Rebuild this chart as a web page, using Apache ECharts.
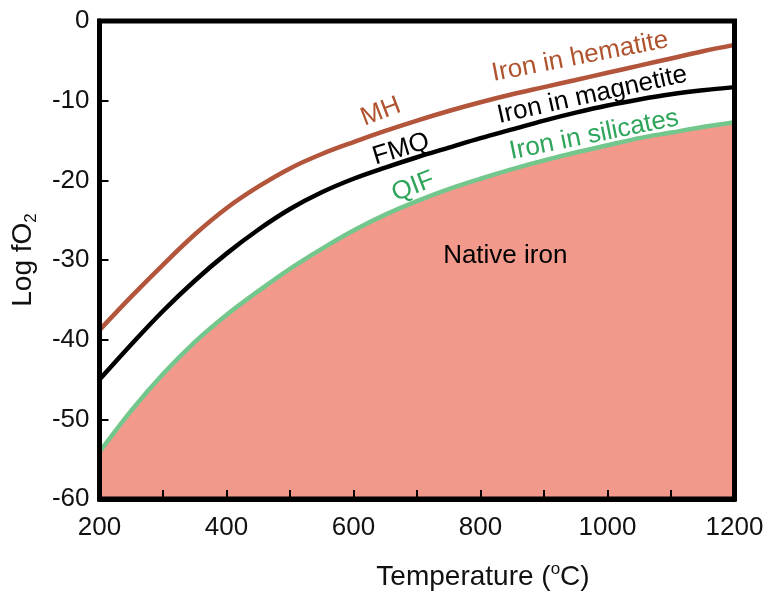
<!DOCTYPE html>
<html><head><meta charset="utf-8">
<script src="https://cdn.jsdelivr.net/npm/echarts@6/dist/echarts.min.js"></script>
<style>html,body{margin:0;padding:0;background:#fff}#c{width:770px;height:596px}</style>
</head><body><div id="c"></div>
<script>
// ---- data ----
const temps = [200,250,300,350,400,450,500,550,600,650,700,750,800,850,900,950,1000,1050,1100,1150,1200];
const mhValues  = [-38.8,-34.6,-30.6,-26.8,-23.5,-20.8,-18.5,-16.7,-15.2,-13.8,-12.5,-11.3,-10.2,-9.2,-8.3,-7.4,-6.5,-5.6,-4.7,-3.8,-3.0];
const fmqValues = [-45.0,-40.6,-36.4,-32.6,-29.2,-26.2,-23.6,-21.5,-19.8,-18.4,-17.1,-15.9,-14.7,-13.6,-12.5,-11.5,-10.6,-9.85,-9.2,-8.7,-8.3];
const qifValues = [-54.1,-48.9,-44.3,-40.3,-36.9,-33.9,-31.1,-28.6,-26.3,-24.3,-22.6,-21.1,-19.8,-18.6,-17.5,-16.5,-15.6,-14.7,-14.0,-13.3,-12.7];
const xTickLabels = [200,400,600,800,1000,1200];
const yTickLabels = [0,-10,-20,-30,-40,-50,-60];
const annotationTexts = ['MH','Iron in hematite','FMQ','Iron in magnetite','QIF','Iron in silicates','Native iron'];
const annotationX = [643, 957, 675, 976, 694, 979, 839];
const annotationY = [-11.4, -4.5, -16.1, -9.3, -20.8, -14.3, -29.5];

// ---- styles ----
const FONT = 'Liberation Sans, Arial, Helvetica, sans-serif';
const BROWN = '#b3553a', BLACK = '#000000', GREEN = '#74c78c', GREEN_TXT = '#2ea55a', FILL = '#f3998c';
const annStyle = [
  {color: '#b0532f', rotate: 21}, {color: '#b0532f', rotate: 11},
  {color: '#000', rotate: 17}, {color: '#000', rotate: 12.5},
  {color: GREEN_TXT, rotate: 21}, {color: GREEN_TXT, rotate: 11.5},
  {color: '#000', rotate: 0}
];

const pairs = vals => temps.map((t, i) => [t, vals[i]]);

const chart = echarts.init(document.getElementById('c'), null, {renderer: 'canvas'});
chart.setOption({
  backgroundColor: '#fff',
  animation: false,
  textStyle: {fontFamily: FONT},
  grid: {left: 99.5, right: 35.5, top: 21, bottom: 97, show: true, z: 10, borderColor: '#000', borderWidth: 5, backgroundColor: 'transparent', containLabel: false},
  xAxis: {
    type: 'value', min: 200, max: 1200, interval: 100, z: 10,
    axisLine: {show: true, onZero: false, lineStyle: {color: '#000', width: 5}},
    axisTick: {show: true, inside: true, length: 9, lineStyle: {color: '#000', width: 2}},
    axisLabel: {fontSize: 26, color: '#111', margin: 16, fontFamily: FONT,
      formatter: v => xTickLabels.includes(v) ? String(v) : ''},
    splitLine: {show: false},
    name: '{t|Temperature (}{s|o}{t|C)}',
    nameLocation: 'middle', nameGap: 62,
    nameTextStyle: {padding: [0, 0, 0, 132], rich: {
      t: {fontSize: 28, color: '#111', fontFamily: FONT, lineHeight: 32},
      s: {fontSize: 17, color: '#111', fontFamily: FONT, verticalAlign: 'top', lineHeight: 16}
    }}
  },
  yAxis: {
    type: 'value', min: -60, max: 0, interval: 10, z: 10,
    axisLine: {show: true, onZero: false, lineStyle: {color: '#000', width: 5}},
    axisTick: {show: true, inside: true, length: 9, lineStyle: {color: '#000', width: 2}},
    axisLabel: {fontSize: 26, color: '#111', margin: 10, fontFamily: FONT,
      formatter: v => yTickLabels.includes(v) ? String(v) : ''},
    splitLine: {show: false},
    name: '{n|Log fO}{s|2}',
    nameLocation: 'middle', nameGap: 60, nameRotate: 90,
    nameTextStyle: {rich: {
      n: {fontSize: 28, color: '#111', fontFamily: FONT, lineHeight: 32},
      s: {fontSize: 17, color: '#111', fontFamily: FONT, verticalAlign: 'bottom', lineHeight: 14}
    }}
  },
  series: [
    {type: 'line', name: 'QIF', data: pairs(qifValues), smooth: 0.35, symbol: 'none',
     lineStyle: {color: GREEN, width: 4.5}, areaStyle: {color: FILL, opacity: 1, origin: 'start'}, z: 2},
    {type: 'line', name: 'FMQ', data: pairs(fmqValues), smooth: 0.35, symbol: 'none',
     lineStyle: {color: BLACK, width: 4.5}, z: 3},
    {type: 'line', name: 'MH', data: pairs(mhValues), smooth: 0.35, symbol: 'none',
     lineStyle: {color: BROWN, width: 4.5}, z: 3},
    {type: 'scatter', name: 'labels', symbolSize: 1, itemStyle: {color: 'rgba(0,0,0,0)', opacity: 1}, z: 5, silent: true,
     data: annotationTexts.map((t, i) => ({
       value: [annotationX[i], annotationY[i]], name: t,
       label: {show: true, position: 'inside', formatter: t, fontSize: 26, fontFamily: FONT, opacity: 1,
               color: annStyle[i].color, rotate: annStyle[i].rotate, align: 'center', verticalAlign: 'middle'}
     }))}
  ]
});
</script></body></html>
